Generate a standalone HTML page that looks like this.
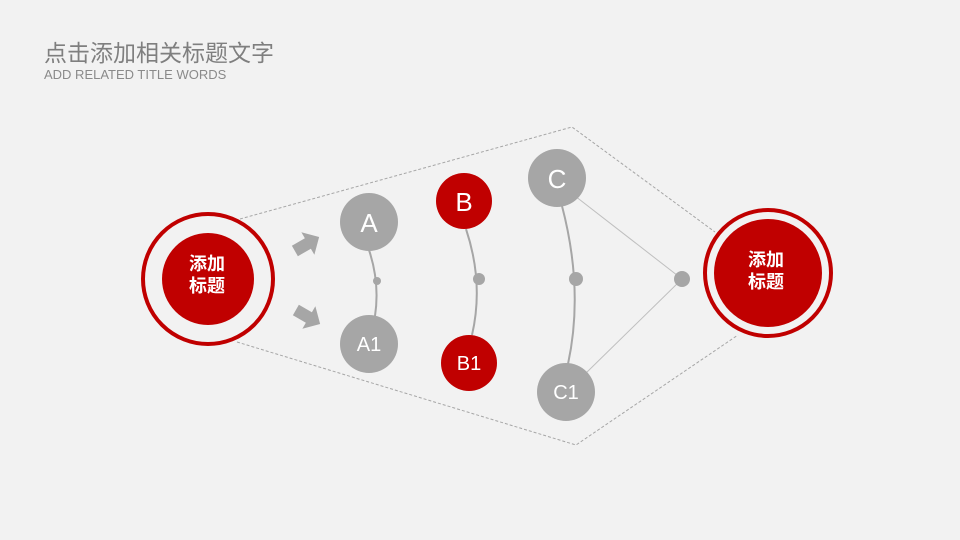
<!DOCTYPE html>
<html><head><meta charset="utf-8"><style>
body{margin:0;background:#f2f2f2;width:960px;height:540px;overflow:hidden;font-family:"Liberation Sans","Noto Sans CJK SC",sans-serif}
.t1{position:absolute;left:44px;top:34px;font-size:23px;color:#7f7f7f;font-family:"Noto Sans CJK SC","WenQuanYi Zen Hei",sans-serif}
.t2{position:absolute;left:44px;top:67px;font-size:13px;color:#8a8a8a}
</style></head><body>
<div class="t1">点击添加相关标题文字</div>
<div class="t2">ADD RELATED TITLE WORDS</div>
<svg width="960" height="540" style="position:absolute;left:0;top:0">
<g fill="none" stroke="#a6a6a6" stroke-width="1" stroke-dasharray="3,2">
<polyline points="240,219 572,127 715,232"/>
<polyline points="237,342 576,445 738,335"/>
</g>
<g fill="none" stroke="#a6a6a6" stroke-width="2">
<path d="M369,250 Q380,283 375,316"/>
<path d="M466,229 Q484,283 472,335"/>
<path d="M562,206 Q584,290 568,364"/>
</g>
<g stroke="#bfbfbf" stroke-width="1">
<line x1="575" y1="196" x2="682" y2="279"/>
<line x1="585" y1="374" x2="682" y2="279"/>
</g>
<g fill="#a6a6a6">
<circle cx="377" cy="281" r="4"/><circle cx="479" cy="279" r="6"/><circle cx="576" cy="279" r="7"/><circle cx="682" cy="279" r="8"/>
<polygon transform="translate(307,244) rotate(-30)" points="-14,-6 1,-6 1,-13 14,0 1,13 1,6 -14,6"/>
<polygon transform="translate(308,317) rotate(30)" points="-14,-6 1,-6 1,-13 14,0 1,13 1,6 -14,6"/>
<circle cx="369" cy="222" r="29"/><circle cx="369" cy="344" r="29"/>
<circle cx="557" cy="178" r="29"/><circle cx="566" cy="392" r="29"/>
</g>
<g fill="#c00000">
<circle cx="464" cy="201" r="28"/><circle cx="469" cy="363" r="28"/>
<circle cx="208" cy="279" r="46"/><circle cx="768" cy="273" r="54"/>
</g>
<g fill="none" stroke="#c00000" stroke-width="4">
<circle cx="208" cy="279" r="65"/><circle cx="768" cy="273" r="63"/>
</g>
<g fill="#fff" text-anchor="middle" font-family="Liberation Sans,sans-serif">
<text x="369" y="232" font-size="26">A</text>
<text x="369" y="351" font-size="20">A1</text>
<text x="464" y="211" font-size="26">B</text>
<text x="469" y="370" font-size="20">B1</text>
<text x="557" y="188" font-size="26">C</text>
<text x="566" y="399" font-size="20">C1</text>
</g>
<g fill="#fff" text-anchor="middle" font-size="18" font-weight="bold" font-family="Noto Sans CJK SC,sans-serif">
<text x="207" y="270">添加</text><text x="207" y="292">标题</text>
<text x="766" y="266">添加</text><text x="766" y="288">标题</text>
</g>
</svg>
</body></html>
